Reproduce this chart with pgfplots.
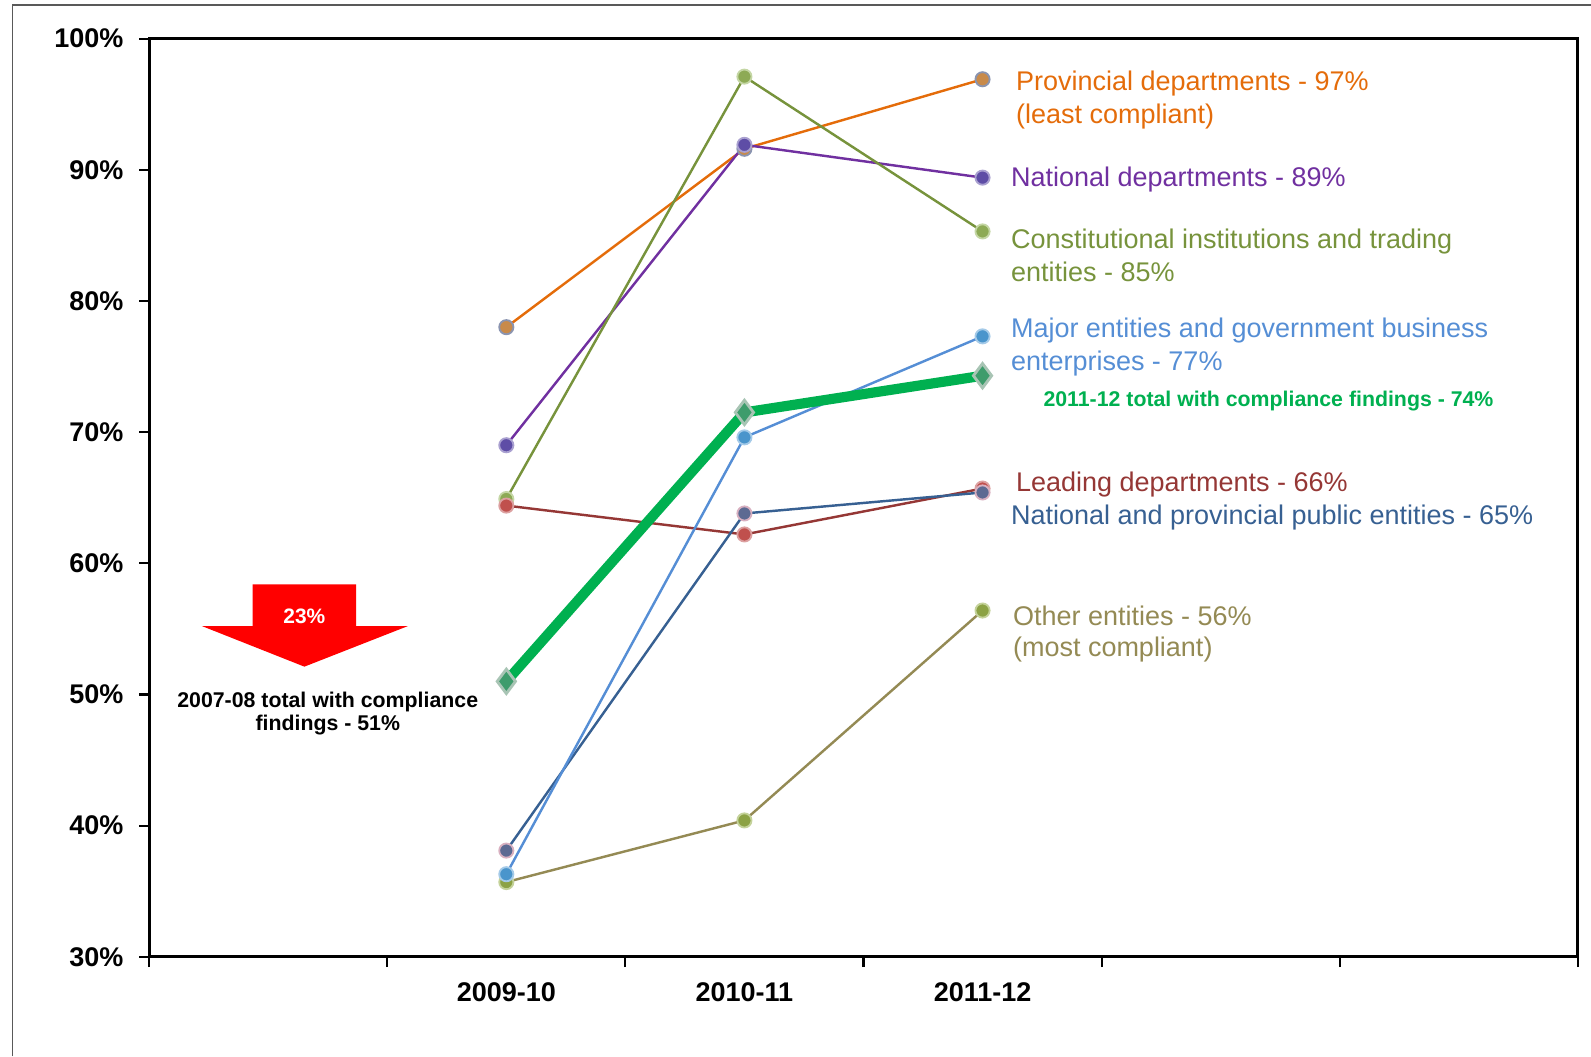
\documentclass[border=0pt]{standalone}
\usepackage{pgfplots}
\pgfplotsset{compat=1.18}
\usepackage{fontspec}
\setmainfont{Liberation Sans}

\definecolor{cProv}{HTML}{E46C0A}
\definecolor{cNat}{HTML}{7030A0}
\definecolor{cConst}{HTML}{77933C}
\definecolor{cMajor}{HTML}{558ED5}
\definecolor{cTotal}{HTML}{00B050}
\definecolor{cLead}{HTML}{953735}
\definecolor{cNatProv}{HTML}{376092}
\definecolor{cOther}{HTML}{948A54}
% marker fills and rims
\definecolor{mProv}{HTML}{C88A4A}
\definecolor{rProv}{HTML}{8A94B0}
\definecolor{mNat}{HTML}{5E4DA6}
\definecolor{rNat}{HTML}{A9A0D0}
\definecolor{mConst}{HTML}{8DAA55}
\definecolor{rConst}{HTML}{C4D6A4}
\definecolor{mLead}{HTML}{C0504D}
\definecolor{rLead}{HTML}{DCA0A0}
\definecolor{mNatProv}{HTML}{5C6A92}
\definecolor{rNatProv}{HTML}{D8B0C0}
\definecolor{mOther}{HTML}{8CA245}
\definecolor{rOther}{HTML}{C4D29A}
\definecolor{mMajor}{HTML}{4A95CC}
\definecolor{rMajor}{HTML}{A4CAE8}
\definecolor{mTotal}{HTML}{3E9C6C}
\definecolor{rTotal}{HTML}{A8C4B4}

\newcommand{\lbl}{\fontsize{13.3}{16}\selectfont}

\begin{document}
\begin{tikzpicture}
\path[use as bounding box] (0,0) rectangle (784pt,-520.5pt);
% outer frame (left and top edges)
\draw[line width=0.6pt, black!65] (6pt,-520.5pt) -- (6pt,-2.5pt) -- (784pt,-2.5pt);

\begin{axis}[
  at={(73.5pt,-471.5pt)}, anchor=south west,
  scale only axis, width=704pt, height=452.5pt,
  xmin=0, xmax=6, ymin=30, ymax=100,
  xtick={0,1,...,6}, xticklabels={},
  extra x ticks={1.5,2.5,3.5},
  extra x tick labels={2009-10,2010-11,2011-12},
  extra x tick style={major tick length=0pt,
    xticklabel style={anchor=base, yshift=-22pt}},
  ytick={30,40,...,100},
  yticklabel={\pgfmathprintnumber{\tick}\%},
  yticklabel style={anchor=east, inner sep=0pt, xshift=-7.5pt},
  tick label style={font=\fontsize{13.3}{16}\selectfont\bfseries},
  /pgf/number format/assume math mode=true,
  xtick pos=left, ytick pos=left,
  tick align=outside,
  major tick length=5pt,
  major tick style={line width=1pt, black},
  axis line style={line width=1.4pt, black},
  clip=false,
]
% Provincial departments
\addplot[cProv, line width=1.2pt, mark=*, mark size=3.5pt,
  mark options={fill=mProv, draw=rProv, line width=0.9pt}]
  coordinates {(1.5,78.0) (2.5,91.6) (3.5,96.9)};
% National departments
\addplot[cNat, line width=1.2pt, mark=*, mark size=3.5pt,
  mark options={fill=mNat, draw=rNat, line width=0.9pt}]
  coordinates {(1.5,69.0) (2.5,91.9) (3.5,89.4)};
% Constitutional institutions and trading entities
\addplot[cConst, line width=1.2pt, mark=*, mark size=3.5pt,
  mark options={fill=mConst, draw=rConst, line width=0.9pt}]
  coordinates {(1.5,64.9) (2.5,97.1) (3.5,85.3)};
% Leading departments
\addplot[cLead, line width=1.2pt, mark=*, mark size=3.5pt,
  mark options={fill=mLead, draw=rLead, line width=0.9pt}]
  coordinates {(1.5,64.4) (2.5,62.2) (3.5,65.7)};
% National and provincial public entities
\addplot[cNatProv, line width=1.2pt, mark=*, mark size=3.5pt,
  mark options={fill=mNatProv, draw=rNatProv, line width=0.9pt}]
  coordinates {(1.5,38.1) (2.5,63.8) (3.5,65.4)};
% Other entities
\addplot[cOther, line width=1.2pt, mark=*, mark size=3.5pt,
  mark options={fill=mOther, draw=rOther, line width=0.9pt}]
  coordinates {(1.5,35.7) (2.5,40.4) (3.5,56.4)};
% Major entities and government business enterprises
\addplot[cMajor, line width=1.2pt, mark=*, mark size=3.5pt,
  mark options={fill=mMajor, draw=rMajor, line width=0.9pt}]
  coordinates {(1.5,36.3) (2.5,69.6) (3.5,77.3)};
% Total with compliance findings
\addplot[cTotal, line width=5pt, mark=diamond*, mark size=6pt,
  mark options={fill=mTotal, draw=rTotal, line width=1.4pt}]
  coordinates {(1.5,51.0) (2.5,71.5) (3.5,74.3)};
\end{axis}

\begin{scope}[x=0.5pt, y=-0.5pt]
  % down arrow
  \fill[red] (249,576) -- (351,576) -- (351,617) -- (402,617) -- (300,657)
    -- (199,617) -- (249,617) -- cycle;
  \node[white, font=\fontsize{10.3}{12}\selectfont\bfseries] at (300,607) {23\%};
  \node[anchor=base, font=\fontsize{10.5}{12}\selectfont\bfseries] at (323,697)
    {2007-08 total with compliance};
  \node[anchor=base, font=\fontsize{10.5}{12}\selectfont\bfseries] at (323,720)
    {findings - 51\%};

  % series labels
  \node[anchor=base west, inner sep=0pt, cProv, font=\lbl] at (1001,89) {Provincial departments - 97\%};
  \node[anchor=base west, inner sep=0pt, cProv, font=\lbl] at (1001,122) {(least compliant)};
  \node[anchor=base west, inner sep=0pt, cNat, font=\lbl] at (996,184) {National departments - 89\%};
  \node[anchor=base west, inner sep=0pt, cConst, font=\lbl] at (996,245) {Constitutional institutions and trading};
  \node[anchor=base west, inner sep=0pt, cConst, font=\lbl] at (996,277) {entities - 85\%};
  \node[anchor=base west, inner sep=0pt, cMajor, font=\lbl] at (996,333) {Major entities and government business};
  \node[anchor=base west, inner sep=0pt, cMajor, font=\lbl] at (996,365) {enterprises - 77\%};
  \node[anchor=base west, inner sep=0pt, cTotal, font=\fontsize{10.5}{12}\selectfont\bfseries] at (1028,401) {2011-12 total with compliance findings - 74\%};
  \node[anchor=base west, inner sep=0pt, cLead, font=\lbl] at (1001,484) {Leading departments - 66\%};
  \node[anchor=base west, inner sep=0pt, cNatProv, font=\lbl] at (996,517) {National and provincial public entities - 65\%};
  \node[anchor=base west, inner sep=0pt, cOther, font=\lbl] at (998,616) {Other entities - 56\%};
  \node[anchor=base west, inner sep=0pt, cOther, font=\lbl] at (998,647) {(most compliant)};
\end{scope}
\end{tikzpicture}
\end{document}
